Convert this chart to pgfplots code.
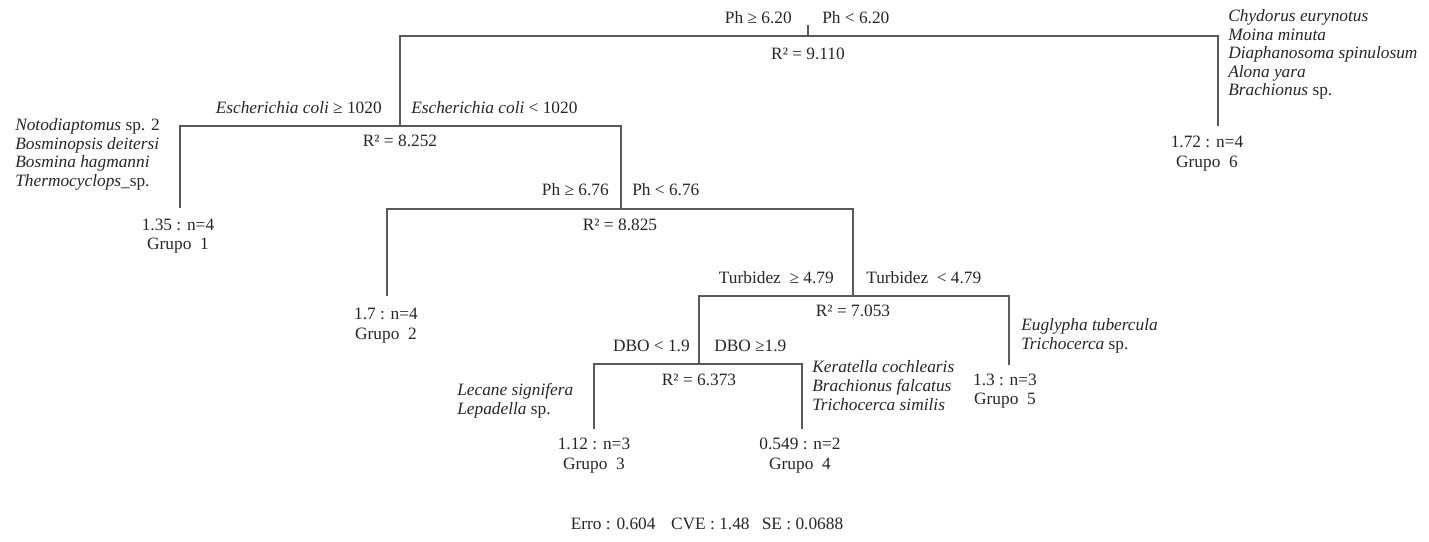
\documentclass[border=0pt]{standalone}
\usepackage{pgfplots}
\pgfplotsset{compat=1.18}
\usepackage{fontspec}
\setmainfont{Liberation Serif}
\tikzset{
  tree/.style={draw=black!65, line width=0.9pt},
  lab/.style={inner sep=0pt, text=black!85, font=\fontsize{13}{14}\selectfont},
}
\begin{document}
\begin{tikzpicture}
\begin{axis}[
  scale only axis, width=1071.75pt, height=406.5pt,
  xmin=0, xmax=1429, ymin=0, ymax=542, y dir=reverse,
  hide axis, clip=false,
]
% invisible frame for the bounding box
\addplot[draw=none, mark=none] coordinates {(0,0) (1429,542)};
% tree segments (pixel coordinates, y downward)
\addplot[tree, mark=none] coordinates {(808,25) (808,36)};
\addplot[tree, mark=none] coordinates {(400,126) (400,36) (1218,36) (1218,126)};
\addplot[tree, mark=none] coordinates {(180,208) (180,126) (621,126) (621,209)};
\addplot[tree, mark=none] coordinates {(387,296) (387,209) (853,209) (853,296)};
\addplot[tree, mark=none] coordinates {(699,364) (699,296) (1009,296) (1009,365)};
\addplot[tree, mark=none] coordinates {(594,429) (594,364) (802,364) (802,429)};

% split labels
\node[lab, anchor=mid east] at (axis cs:792,20) {Ph ≥ 6.20};
\node[lab, anchor=mid west] at (axis cs:822,20) {Ph < 6.20};
\node[lab, anchor=mid] at (axis cs:808,56) {R² = 9.110};

\node[lab, anchor=mid east] at (axis cs:382,110) {\textit{Escherichia coli} ≥ 1020};
\node[lab, anchor=mid west] at (axis cs:411,110) {\textit{Escherichia coli} < 1020};
\node[lab, anchor=mid] at (axis cs:400,143) {R² = 8.252};

\node[lab, anchor=mid east] at (axis cs:609,192) {Ph ≥ 6.76};
\node[lab, anchor=mid west] at (axis cs:632,192) {Ph < 6.76};
\node[lab, anchor=mid] at (axis cs:620,227) {R² = 8.825};

\node[lab, anchor=mid east] at (axis cs:834,280) {Turbidez\ \ ≥ 4.79};
\node[lab, anchor=mid west] at (axis cs:866,280) {Turbidez\ \ < 4.79};
\node[lab, anchor=mid] at (axis cs:853,313) {R² = 7.053};

\node[lab, anchor=mid east] at (axis cs:690,348) {DBO < 1.9};
\node[lab, anchor=mid west] at (axis cs:714,348) {DBO ≥1.9};
\node[lab, anchor=mid] at (axis cs:699,382) {R² = 6.373};

% Grupo 1
\node[lab, anchor=mid west] at (axis cs:15,127) {\textit{Notodiaptomus} sp. 2};
\node[lab, anchor=mid west] at (axis cs:15,146) {\textit{Bosminopsis deitersi}};
\node[lab, anchor=mid west] at (axis cs:15,164) {\textit{Bosmina hagmanni}};
\node[lab, anchor=mid west] at (axis cs:15,183) {\textit{Thermocyclops}\_sp.};
\node[lab, anchor=mid] at (axis cs:178,227) {1.35 : n=4};
\node[lab, anchor=mid] at (axis cs:178,246) {Grupo\ \ 1};

% Grupo 2
\node[lab, anchor=mid] at (axis cs:386,316) {1.7 : n=4};
\node[lab, anchor=mid] at (axis cs:386,336) {Grupo\ \ 2};

% Grupo 3
\node[lab, anchor=mid west] at (axis cs:457,392) {\textit{Lecane signifera}};
\node[lab, anchor=mid west] at (axis cs:457,411) {\textit{Lepadella} sp.};
\node[lab, anchor=mid] at (axis cs:594,446) {1.12 : n=3};
\node[lab, anchor=mid] at (axis cs:594,466) {Grupo\ \ 3};

% Grupo 4
\node[lab, anchor=mid west] at (axis cs:812,369) {\textit{Keratella cochlearis}};
\node[lab, anchor=mid west] at (axis cs:812,388) {\textit{Brachionus falcatus}};
\node[lab, anchor=mid west] at (axis cs:812,407) {\textit{Trichocerca similis}};
\node[lab, anchor=mid] at (axis cs:800,446) {0.549 : n=2};
\node[lab, anchor=mid] at (axis cs:800,466) {Grupo\ \ 4};

% Grupo 5
\node[lab, anchor=mid west] at (axis cs:1021,327) {\textit{Euglypha tubercula}};
\node[lab, anchor=mid west] at (axis cs:1021,346) {\textit{Trichocerca} sp.};
\node[lab, anchor=mid] at (axis cs:1005,382) {1.3 : n=3};
\node[lab, anchor=mid] at (axis cs:1005,401) {Grupo\ \ 5};

% Grupo 6
\node[lab, anchor=mid west] at (axis cs:1228,18) {\textit{Chydorus eurynotus}};
\node[lab, anchor=mid west] at (axis cs:1228,37) {\textit{Moina minuta}};
\node[lab, anchor=mid west] at (axis cs:1228,55) {\textit{Diaphanosoma spinulosum}};
\node[lab, anchor=mid west] at (axis cs:1228,74) {\textit{Alona yara}};
\node[lab, anchor=mid west] at (axis cs:1228,92) {\textit{Brachionus} sp.};
\node[lab, anchor=mid] at (axis cs:1207,144) {1.72 : n=4};
\node[lab, anchor=mid] at (axis cs:1207,164) {Grupo\ \ 6};

% footer
\node[lab, anchor=mid] at (axis cs:707,526) {Erro : 0.604\hspace{0.9em}CVE : 1.48\hspace{0.7em}SE : 0.0688};
\end{axis}
\end{tikzpicture}
\end{document}
